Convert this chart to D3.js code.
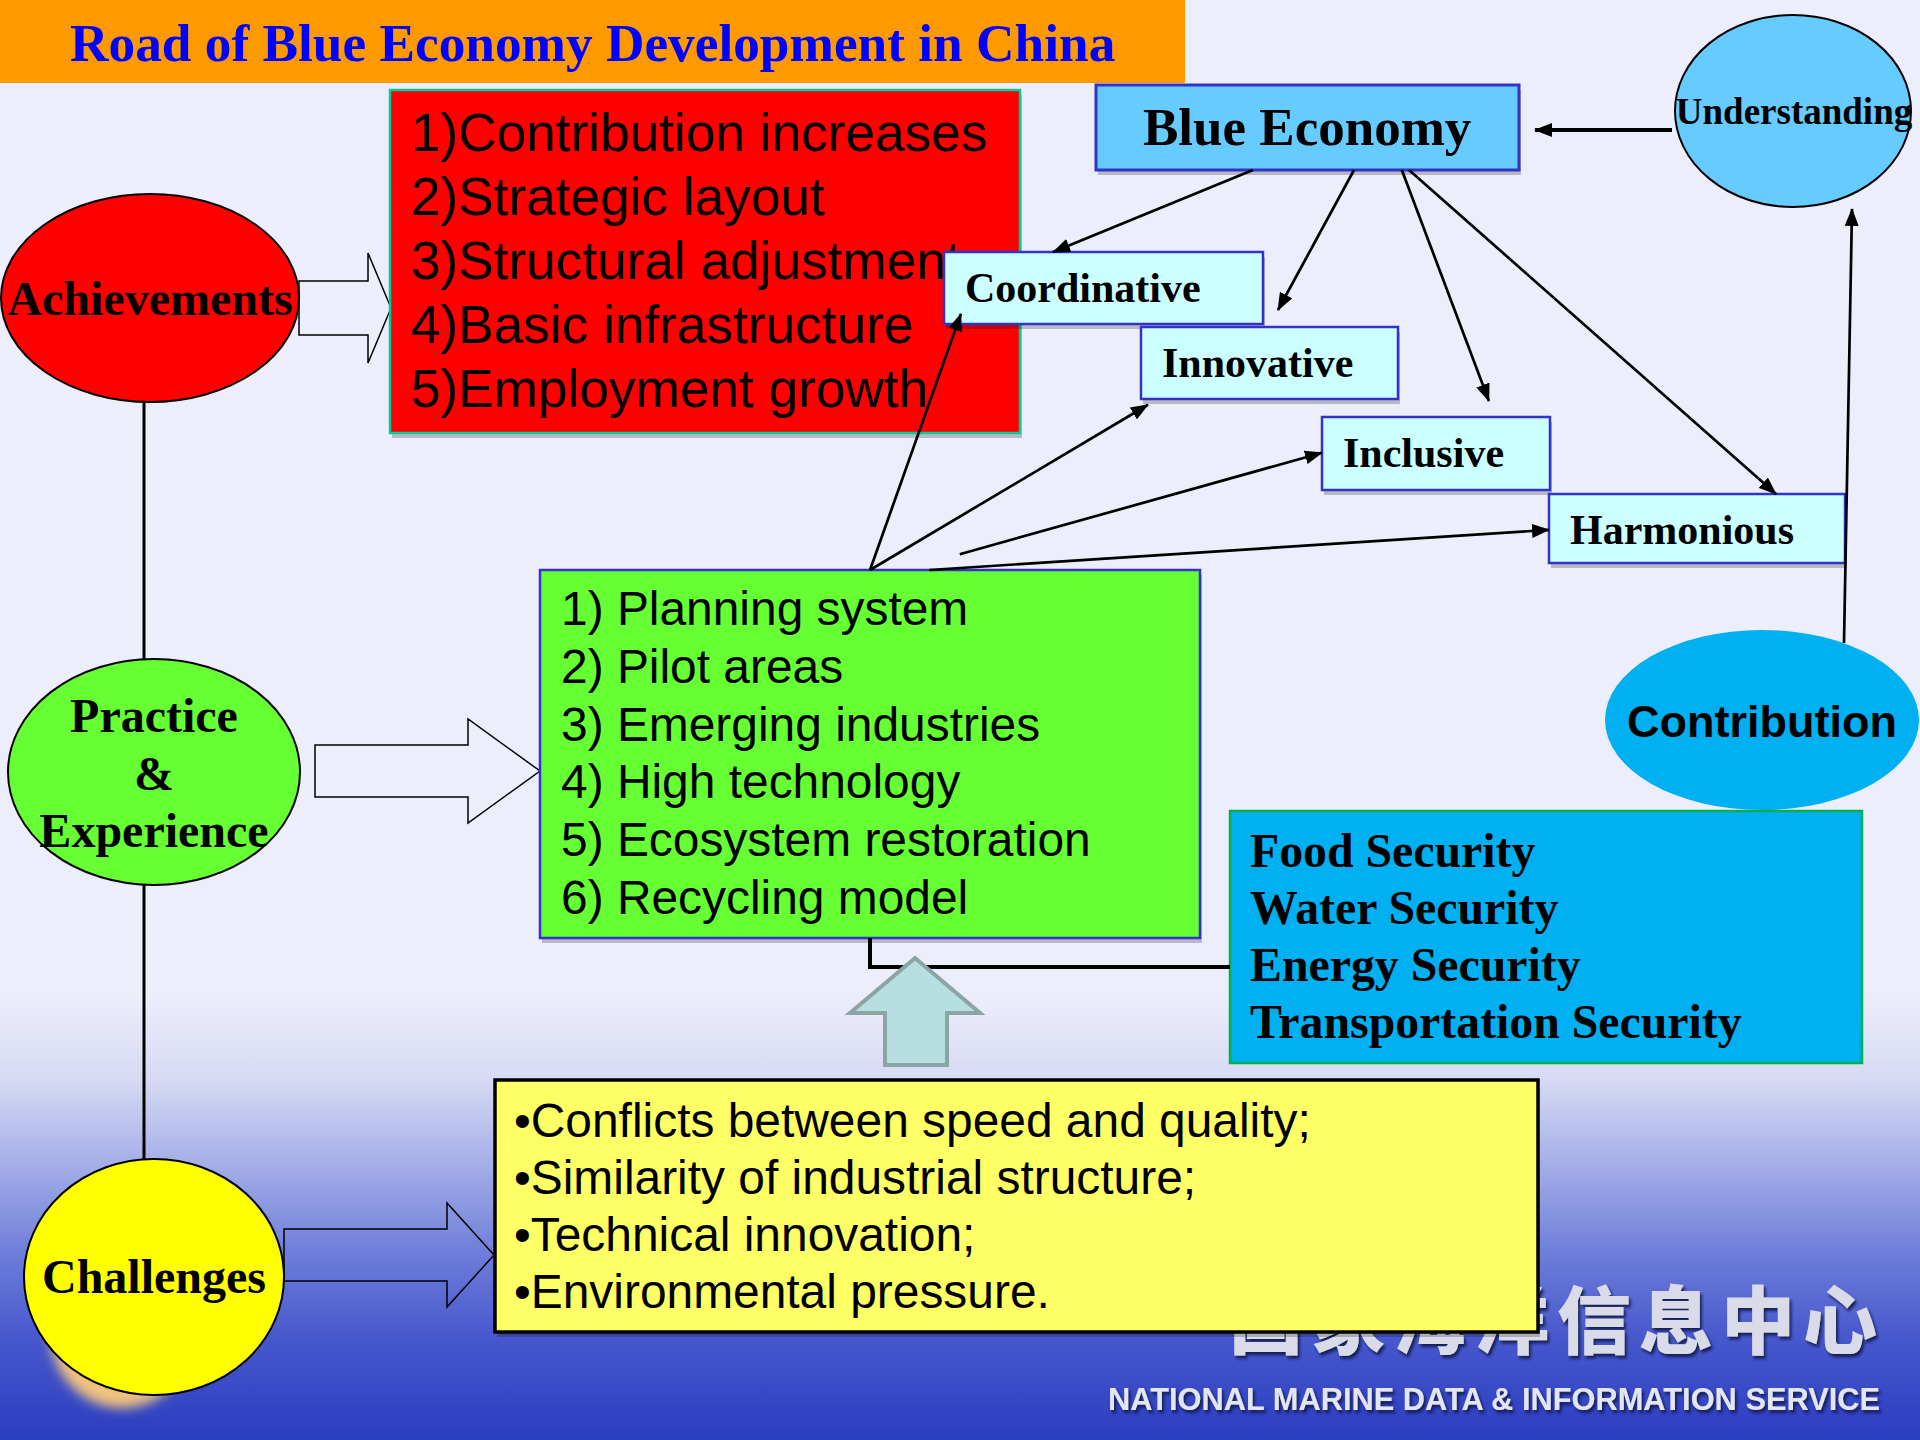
<!DOCTYPE html>
<html lang="en">
<head>
  <meta charset="UTF-8">
  <title>Road of Blue Economy Development in China</title>
  <script src="https://d3js.org/d3.v7.min.js" charset="utf-8"></script>
  <style>
    body { margin: 0; background: #EDEEFB; }
    svg { display: block; }
  </style>
</head>
<body>
</body>
<script>
  // text content of the slide
  const title = 'Road of Blue Economy Development in China'
  const achievements = ['1)Contribution increases', '2)Strategic layout', '3)Structural adjustment', '4)Basic infrastructure', '5)Employment growth']
  const practices = ['1) Planning system', '2) Pilot areas', '3) Emerging industries', '4) High technology', '5) Ecosystem restoration', '6) Recycling model']
  const challenges = ['\u2022Conflicts between speed and quality;', '\u2022Similarity of industrial structure;', '\u2022Technical innovation;', '\u2022Environmental pressure.']
  const securities = ['Food Security', 'Water Security', 'Energy Security', 'Transportation Security']
  const principles = ['Coordinative', 'Innovative', 'Inclusive', 'Harmonious']
  const stageLabels = [['Achievements'], ['Practice', '&', 'Experience'], ['Challenges']]
  const watermarkCn = '国家海洋信息中心'
  const watermarkEn = 'NATIONAL MARINE DATA & INFORMATION SERVICE'

  const SERIF = '"Liberation Serif", "Times New Roman", serif'
  const SANS = '"Liberation Sans", Arial, sans-serif'

  // layout of the boxes
  const box = {
    be: {x: 1096, y: 85, w: 423, h: 85},
    red: {x: 390, y: 90, w: 630, h: 343},
    green: {x: 540, y: 570, w: 660, h: 368},
    yellow: {x: 495, y: 1080, w: 1043, h: 252},
    sec: {x: 1230, y: 811, w: 632, h: 252}
  }
  const pBoxes = [
    {x: 944, y: 252, w: 319, h: 72},
    {x: 1141, y: 327, w: 257, h: 72},
    {x: 1322, y: 417, w: 228, h: 73},
    {x: 1549, y: 494, w: 296, h: 69}
  ]
  const stages = [
    {cx: 150, cy: 298, rx: 149, ry: 104, fill: '#FF0000', base: [315]},
    {cx: 154, cy: 772, rx: 146, ry: 113, fill: '#66FF33', base: [732, 790, 847]},
    {cx: 154, cy: 1277, rx: 130, ry: 118, fill: '#FFFF00', base: [1293]}
  ]

  var svg = d3.select('body').append('svg').attr('width', 1920).attr('height', 1440)
  var defs = svg.append('defs')

  var bg = defs.append('linearGradient').attr('id', 'bg').attr('x1', 0).attr('y1', 0).attr('x2', 0).attr('y2', 1)
  ;[[0, '#EDEEFB'], [0.69, '#EDEEFB'], [0.75, '#D6DAF3'], [0.81, '#A3ADE7'], [0.87, '#6E7ED9'], [0.93, '#4757CD'], [1, '#2B3DC0']]
    .forEach(s => bg.append('stop').attr('offset', s[0]).attr('stop-color', s[1]))

  defs.append('marker').attr('id', 'head').attr('viewBox', '0 0 18 14')
    .attr('refX', 17).attr('refY', 7).attr('markerWidth', 18).attr('markerHeight', 14)
    .attr('markerUnits', 'userSpaceOnUse').attr('orient', 'auto')
    .append('path').attr('d', 'M0,0 L18,7 L0,14 Z').attr('fill', '#000')

  var sh = defs.append('filter').attr('id', 'emboss').attr('x', '-10%').attr('y', '-10%').attr('width', '130%').attr('height', '140%')
  sh.append('feDropShadow').attr('dx', 2).attr('dy', 3).attr('stdDeviation', 1.5).attr('flood-color', '#10164a').attr('flood-opacity', 0.9)
  defs.append('filter').attr('id', 'blur').append('feGaussianBlur').attr('stdDeviation', 6)

  svg.append('rect').attr('width', 1920).attr('height', 1440).attr('fill', 'url(#bg)')

  // watermark logo
  svg.append('ellipse').attr('cx', 122).attr('cy', 1332).attr('rx', 72).attr('ry', 76)
    .attr('fill', '#F0C27E').attr('filter', 'url(#blur)')
  svg.append('g').attr('filter', 'url(#emboss)').selectAll('text').data(watermarkCn.split('')).enter().append('text')
    .attr('x', (d, i) => 1266 + i * 82).attr('y', 1348)
    .attr('text-anchor', 'middle')
    .attr('font-family', '"Noto Sans CJK SC", sans-serif').attr('font-weight', 900).attr('font-size', 74)
    .attr('fill', '#D9DCE8').text(d => d)
  svg.append('text').attr('x', 1108).attr('y', 1410)
    .attr('textLength', 772).attr('lengthAdjust', 'spacingAndGlyphs')
    .attr('font-family', SANS).attr('font-weight', 'bold').attr('font-size', 32)
    .attr('fill', '#E2E5F2').attr('filter', 'url(#emboss)').text(watermarkEn)

  // title bar
  svg.append('rect').attr('width', 1185).attr('height', 83).attr('fill', '#FF9900')
  svg.append('text').attr('x', 70).attr('y', 61)
    .attr('font-family', SERIF).attr('font-weight', 'bold').attr('font-size', 53.3)
    .attr('fill', '#0000FF').text(title)

  // timeline
  svg.append('line').attr('x1', 144).attr('x2', 144).attr('y1', 400).attr('y2', 1160)
    .attr('stroke', '#000').attr('stroke-width', 3)

  var st = svg.selectAll('g.stage').data(stages).enter().append('g').attr('class', 'stage')
  st.append('ellipse').attr('cx', d => d.cx).attr('cy', d => d.cy).attr('rx', d => d.rx).attr('ry', d => d.ry)
    .attr('fill', d => d.fill).attr('stroke', '#000').attr('stroke-width', 2)
  st.each(function(d, i) {
    d3.select(this).selectAll('text').data(stageLabels[i]).enter().append('text')
      .attr('x', d.cx).attr('y', (t, j) => d.base[j]).attr('text-anchor', 'middle')
      .attr('font-family', SERIF).attr('font-weight', 'bold').attr('font-size', 48)
      .text(t => t)
  })

  // hollow block arrows from the stages
  function blockArrow(x0, x1, x2, yc, hs, hh) {
    return [[x0, yc - hs], [x1, yc - hs], [x1, yc - hh], [x2, yc], [x1, yc + hh], [x1, yc + hs], [x0, yc + hs]]
  }
  var hollow = [blockArrow(299, 368, 391, 308, 27, 55), blockArrow(315, 468, 540, 771, 26, 52), blockArrow(284, 447, 494, 1255, 26, 52)]
  svg.selectAll('polygon.hollow').data(hollow).enter().append('polygon').attr('class', 'hollow')
    .attr('points', d => d.join(' ')).attr('fill', 'none').attr('stroke', '#000').attr('stroke-width', 1.5)

  function drawBox(b, fill, stroke, sw, shadow) {
    if (shadow) {
      svg.append('rect').attr('x', b.x + 2).attr('y', b.y + 5).attr('width', b.w).attr('height', b.h)
        .attr('fill', '#000').attr('opacity', 0.22)
    }
    svg.append('rect').attr('x', b.x).attr('y', b.y).attr('width', b.w).attr('height', b.h)
      .attr('fill', fill).attr('stroke', stroke).attr('stroke-width', sw)
  }
  function drawLines(arr, x, y0, dy, family, size, weight) {
    svg.append('g').selectAll('text').data(arr).enter().append('text')
      .attr('x', x).attr('y', (d, i) => y0 + i * dy)
      .attr('font-family', family).attr('font-size', size).attr('font-weight', weight)
      .attr('fill', '#000').text(d => d)
  }

  drawBox(box.red, '#FF0000', '#00CC99', 2.5, true)
  drawLines(achievements, box.red.x + 21, box.red.y + 61, 64, SANS, 53.2, 'normal')

  drawBox(box.green, '#66FF33', '#3333CC', 2.5, true)
  drawLines(practices, box.green.x + 21, box.green.y + 55, 57.8, SANS, 47.9, 'normal')

  drawBox(box.yellow, '#FFFF66', '#000', 3.5, true)
  drawLines(challenges, box.yellow.x + 19, box.yellow.y + 57, 57, SANS, 47.9, 'normal')

  drawBox(box.be, '#66CCFF', '#3333CC', 3, true)
  svg.append('text').attr('x', box.be.x + 47).attr('y', box.be.y + 60)
    .attr('font-family', SERIF).attr('font-weight', 'bold').attr('font-size', 53).text('Blue Economy')

  pBoxes.forEach((b, i) => {
    drawBox(b, '#CCFFFF', '#3333CC', 2.5, true)
    svg.append('text').attr('x', b.x + 21).attr('y', b.y + 50)
      .attr('font-family', SERIF).attr('font-weight', 'bold').attr('font-size', 42).text(principles[i])
  })

  // understanding / contribution
  svg.append('ellipse').attr('cx', 1793).attr('cy', 111).attr('rx', 118).attr('ry', 96)
    .attr('fill', '#66CCFF').attr('stroke', '#000').attr('stroke-width', 2)
  svg.append('text').attr('x', 1794).attr('y', 124).attr('text-anchor', 'middle')
    .attr('font-family', SERIF).attr('font-weight', 'bold').attr('font-size', 37).text('Understanding')
  svg.append('ellipse').attr('cx', 1762).attr('cy', 720).attr('rx', 157).attr('ry', 90).attr('fill', '#00B0F0')
  svg.append('text').attr('x', 1762).attr('y', 737).attr('text-anchor', 'middle')
    .attr('font-family', SANS).attr('font-weight', 'bold').attr('font-size', 45).text('Contribution')

  drawBox(box.sec, '#00B0F0', '#00B050', 2.5, false)
  drawLines(securities, box.sec.x + 20, box.sec.y + 56, 57, SERIF, 47.8, 'bold')

  // connector green box -> security box, and the up arrow from the challenges
  svg.append('path').attr('d', d3.line()([[870, box.green.y + box.green.h], [870, 967], [box.sec.x, 967]]))
    .attr('fill', 'none').attr('stroke', '#000').attr('stroke-width', 4)
  var up = [[915, 958], [980, 1013], [947, 1013], [947, 1065], [885, 1065], [885, 1013], [850, 1013]]
  svg.append('polygon').attr('points', up.join(' ')).attr('fill', '#B7DEE0').attr('stroke', '#8BA4A4').attr('stroke-width', 4)

  // arrows between boxes
  function at(b, fx, fy) { return [b.x + fx * b.w, b.y + fy * b.h] }
  var links = [
    [at(box.be, 0.371, 1), at(pBoxes[0], 0.342, 0)],
    [at(box.be, 0.61, 1), at(pBoxes[1], 0.533, -0.236)],
    [at(box.be, 0.723, 1), at(pBoxes[2], 0.732, -0.22)],
    [at(box.be, 0.74, 1), at(pBoxes[3], 0.767, 0)],
    [at(box.green, 0.5, 0), at(pBoxes[0], 0.053, 0.86)],
    [at(box.green, 0.5, 0), at(pBoxes[1], 0.027, 1.08)],
    [at(box.green, 0.636, -0.043), at(pBoxes[2], 0, 0.49)],
    [at(box.green, 0.59, 0), at(pBoxes[3], 0, 0.52)],
    [[1844, 643], [1852, 209]]
  ]
  var lineGen = d3.line()
  svg.selectAll('path.link').data(links).enter().append('path').attr('class', 'link')
    .attr('d', d => lineGen(d)).attr('fill', 'none').attr('stroke', '#000').attr('stroke-width', 2.7)
    .attr('marker-end', 'url(#head)')
  svg.append('path').attr('d', lineGen([[1672, 130], [1535, 130]]))
    .attr('stroke', '#000').attr('stroke-width', 4).attr('marker-end', 'url(#head)')
</script>
</html>
